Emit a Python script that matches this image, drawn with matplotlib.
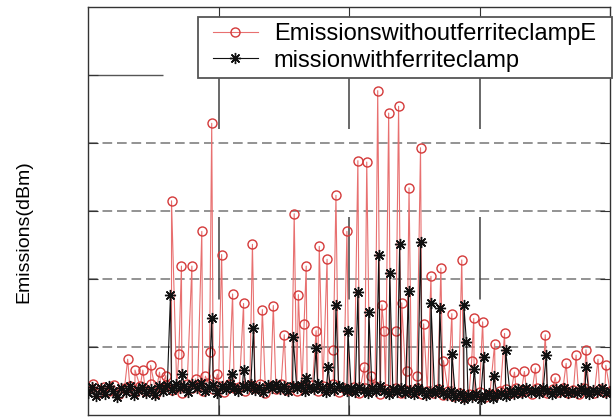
import numpy as np
import matplotlib
matplotlib.use("Agg")
import matplotlib.pyplot as plt
from matplotlib.patches import Rectangle

plt.rcParams['font.family'] = ['Liberation Sans', 'DejaVu Sans']

# frequency axis (MHz) and levels (dBm)
red_spike_freq = [76, 90, 105, 120, 137, 149, 160, 174, 179, 199, 206, 218, 225, 233, 237,
                  248, 256, 277, 298, 315, 334, 355, 376, 395, 403, 414, 418, 437, 443, 458,
                  470, 475, 496, 517, 529, 534, 542, 555, 563, 567, 576, 590, 595, 601, 611,
                  615, 630, 637, 643, 657, 676, 681, 697, 716, 735, 739, 756, 779, 798, 817,
                  836, 857, 876, 895, 916, 935, 954, 977, 992]
red_spike_level = [-101.8, -103.4, -103.4, -102.7, -103.7, -104.2, -78.5, -101.1, -88.1, -88.1,
                   -104.7, -83.0, -104.3, -100.8, -67.1, -104.0, -86.4, -92.2, -93.6, -84.9,
                   -94.5, -93.9, -98.2, -80.4, -92.3, -96.6, -88.1, -97.6, -85.2, -87.1,
                   -100.4, -77.7, -83.0, -72.6, -103.0, -72.8, -104.3, -62.3, -93.8, -97.6,
                   -65.6, -97.6, -64.6, -93.5, -103.6, -76.6, -104.3, -70.7, -96.6, -89.6,
                   -88.4, -102.0, -95.1, -87.2, -102.0, -95.8, -96.3, -99.5, -98.0, -103.7,
                   -103.6, -103.1, -98.2, -104.5, -102.4, -101.2, -100.4, -101.8, -102.7]

black_spike_freq = [158, 181, 237, 275, 298, 317, 393, 418, 437, 460, 475, 498, 517, 538, 557,
                    578, 597, 614, 637, 657, 674, 697, 720, 725, 740, 758, 777, 800, 878, 954]
black_spike_level = [-92.3, -104.0, -95.8, -103.9, -103.4, -97.2, -98.6, -104.5, -100.1, -103.0,
                     -93.8, -97.6, -91.9, -94.8, -86.5, -89.1, -84.9, -91.8, -84.5, -93.6,
                     -94.2, -101.0, -93.8, -99.3, -103.3, -101.5, -104.3, -100.4, -101.2, -103.0]

# noise floor, evenly sampled over the band
red_floor = [-106.2, -105.4, -106.8, -105.9, -106.5, -105.6, -106.9, -106.0, -105.7, -106.6,
             -105.8, -106.4, -105.5, -106.7, -106.1, -105.6, -106.3, -105.9, -106.8, -105.4,
             -106.0, -105.7, -106.5, -105.3, -106.2, -105.8, -106.6, -105.5, -106.1, -105.9,
             -106.4, -105.6, -106.0, -105.4, -106.7, -105.8, -106.2, -105.5, -106.3, -105.9,
             -106.5, -105.7, -106.1, -105.6, -106.4, -105.8, -106.0, -105.5, -106.6, -106.0,
             -106.3, -105.9, -106.7, -106.1, -106.4, -105.8, -106.9, -106.2, -106.5, -106.0,
             -106.8, -106.3, -106.6, -106.1, -106.9, -106.4, -106.7, -106.2, -107.0, -106.5,
             -107.2, -106.8, -107.4, -106.9, -107.1, -106.6, -107.3, -106.9, -107.0, -106.5,
             -106.2, -106.8, -106.0, -106.6, -106.3, -106.9, -106.1, -106.5, -106.8, -106.2,
             -106.6, -106.0, -106.7, -106.3, -106.9, -106.1, -106.5, -106.8, -106.2, -106.6,
             -106.4]
black_floor = [-106.8, -105.9, -107.2, -106.1, -106.9, -105.7, -106.5, -107.3, -106.0, -106.6,
               -105.8, -107.0, -106.3, -105.9, -106.8, -106.2, -107.1, -105.8, -106.4, -105.6,
               -106.3, -105.4, -106.1, -105.8, -106.6, -105.5, -106.0, -105.3, -106.4, -105.9,
               -105.6, -106.7, -105.8, -106.2, -105.4, -106.0, -106.5, -105.7, -106.1, -105.5,
               -106.3, -105.9, -106.6, -105.6, -106.0, -105.4, -106.2, -105.8, -106.5, -105.7,
               -106.1, -105.6, -106.4, -105.9, -106.2, -105.5, -106.0, -106.6, -105.8, -106.3,
               -105.7, -106.1, -106.4, -106.0, -106.6, -105.9, -106.3, -106.8, -106.1, -106.5,
               -105.8, -106.4, -106.9, -106.2, -106.6, -106.0, -106.7, -106.3, -106.9, -106.1,
               -106.5, -107.0, -106.4, -106.8, -106.2, -106.7, -107.1, -106.5, -107.3, -106.8,
               -107.6, -107.0, -107.4, -106.9, -107.7, -107.2, -106.8, -107.5, -107.0, -106.7,
               -107.2, -106.5, -106.9, -106.2, -106.7, -106.0, -106.6, -106.3, -106.8, -106.1,
               -106.5, -106.9, -106.2, -106.6, -106.0, -106.7, -106.4, -106.8, -106.1, -106.5,
               -106.9, -106.3, -106.6, -106.0, -106.7, -106.4]

x_ticks = [250, 500, 750]
y_ticks = [-100, -90, -80, -70, -60]
labels = ["EmissionswithoutferriteclampE", "missionwithferriteclamp"]


def build(floor, spike_f, spike_v):
    ff = np.linspace(0, 1000, len(floor))
    f = np.concatenate([ff, spike_f])
    v = np.concatenate([floor, spike_v])
    order = np.argsort(f, kind="stable")
    return f[order], v[order]


red_f, red_v = build(red_floor, red_spike_freq, red_spike_level)
blk_f, blk_v = build(black_floor, black_spike_freq, black_spike_level)

W, H = 615, 417
fig = plt.figure(figsize=(W / 100, H / 100), dpi=100)
ax = fig.add_axes([88 / W, 2 / H, 522 / W, 408 / H])

# grid lines
for y in y_ticks:
    if y == -60:
        ax.axhline(y, color='#555555', lw=1.0, ls=(0, (54, 57.6)), zorder=1)
    else:
        ax.axhline(y, color='#808080', lw=1.2, ls=(0, (5.8, 2.9)), zorder=1)
for x in x_ticks:
    ax.axvline(x, color='#404040', lw=1.1, ls=(36, (54, 57.6)), zorder=1)

ax.plot(red_f, red_v, color='#e87070', lw=0.8, marker='o', ms=6.5,
        mfc='none', mec='#d43a3a', mew=1.0, label=labels[0], zorder=2)
ax.plot(blk_f, blk_v, color='#111111', lw=0.8, marker=(8, 2, 0), ms=8,
        mec='#111111', mew=1.0, label=labels[1], zorder=3)

ax.set_xlim(0, 1000)
ax.set_ylim(-110, -50)
ax.set_xticks(x_ticks)
ax.set_yticks(y_ticks)
ax.tick_params(direction='in', length=7, top=True, right=True, color='#333333',
               labelbottom=False, labelleft=False)
for s in ax.spines.values():
    s.set_color('#333333')
    s.set_linewidth(1.0)

fig.text(24 / W, 1 - 232 / H, "Emissions(dBm)", rotation=90, fontsize=14,
         ha='center', va='center')

# legend box
ax.add_patch(Rectangle((198 / W, 1 - 78 / H), 414 / W, 61 / H, transform=fig.transFigure,
                       facecolor='white', edgecolor='#555555', lw=1.3, zorder=4, clip_on=False))
ax.legend(loc='upper left', bbox_to_anchor=(213 / W, 1 - 23 / H), bbox_transform=fig.transFigure,
          frameon=False, fontsize=17, borderpad=0, borderaxespad=0, handlelength=1.9,
          handletextpad=0.68, labelspacing=0.2).set_zorder(5)

fig.savefig("out.png", dpi=100)
